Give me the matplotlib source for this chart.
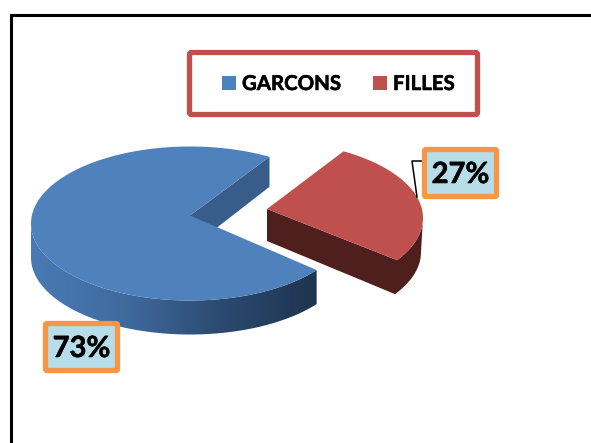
# 3D style pie chart garcons / filles
import numpy as np
import matplotlib
matplotlib.use('Agg')
import matplotlib.pyplot as plt
import matplotlib.patheffects as pe
from matplotlib.colors import LinearSegmentedColormap
from matplotlib.patches import FancyBboxPatch, Polygon, Rectangle

categories = ['GARCONS', 'FILLES']
shares = [73, 27]
share_labels = ['73%', '27%']

plt.rcParams['font.family'] = ['Lato', 'DejaVu Sans']

fig = plt.figure(figsize=(5.91, 4.43), dpi=100)
ax = fig.add_axes([0, 0, 1, 1])
ax.set_xlim(0, 591)
ax.set_ylim(443, 0)
ax.axis('off')

# pie geometry in pixels
rx, ry = 159, 77
depth = 33
apex_shift = -8          # perspective: apex sits above the ellipse centre
start = 60
red_skew = 4             # perspective again, red front corner sits further right
blue_c = (190, 223.5)
red_c = (264, 218)
bold = [pe.withStroke(linewidth=0.4, foreground='black')]


def arc(c, a0, a1, dy=0):
    t = np.radians(np.linspace(a0, a1, 200))
    return np.column_stack([c[0] + rx * np.cos(t), c[1] - ry * np.sin(t) + dy])


blue_end = start + shares[0] / sum(shares) * 360
red_end = blue_end + shares[1] / sum(shares) * 360

# blue side walls
blue_apex = np.array([blue_c[0], blue_c[1] + apex_shift])
p0 = arc(blue_c, start, start + 0.01)[0]
ax.add_patch(Polygon([blue_apex, p0, p0 + [0, depth - 3], blue_apex + [0, depth]],
                     fc='#385d8a', ec='none', zorder=1))

top = arc(blue_c, 180, blue_end)
bot = arc(blue_c, blue_end, 180, dy=depth + 1)
wall = Polygon(np.vstack([top, bot]), fc='none', ec='none', zorder=2)
ax.add_patch(wall)
cmap = LinearSegmentedColormap.from_list('w', ['#4a7ab4', '#3f6a9e', '#2c4a70', '#1e344f'])
im = ax.imshow(np.linspace(0, 1, 256)[None, :], cmap=cmap, aspect='auto',
               extent=[blue_c[0] - rx, top[-1][0], 443, 0], zorder=2)
im.set_clip_path(wall)
ax.set_xlim(0, 591)
ax.set_ylim(443, 0)

# blue top
ax.add_patch(Polygon(np.vstack([blue_apex, arc(blue_c, start, blue_end)]),
                     fc='#4f81bd', ec='none', zorder=3))

# red side walls, one outline so there is no seam at the corner
red_apex = np.array([red_c[0] + 3, red_c[1] + apex_shift - 1])
r_arc = arc(red_c, blue_end + red_skew, red_end)
front = arc(red_c, blue_end + red_skew, 360)
ax.add_patch(Polygon(np.vstack([red_apex, front, (front + [-2, depth + 1])[::-1],
                                red_apex + [0, depth - 1]]),
                     fc='#4f1f1d', ec='none', zorder=4))

# red top
ax.add_patch(Polygon(np.vstack([red_apex, r_arc]), fc='#c0504d', ec='none', zorder=5))

# frame
ax.plot([10.5, 10.5, 591], [443, 15, 15], color='black', lw=2.2, solid_joinstyle='miter', zorder=6)

# legend
ax.add_patch(FancyBboxPatch((189.5, 52.5), 288, 62, boxstyle='round,pad=0,rounding_size=2',
                            fc='white', ec='#c0504d', lw=3.8, zorder=6))
ax.add_patch(Rectangle((222, 76), 14, 14, fc='#4f81bd', ec='none', zorder=7))
ax.add_patch(Rectangle((373, 76), 14, 14, fc='#c0504d', ec='none', zorder=7))
ax.text(242, 84, categories[0], fontsize=14.7, fontweight='bold', va='center', ha='left',
        zorder=7, path_effects=bold)
ax.text(393, 84, categories[1], fontsize=14.7, fontweight='bold', va='center', ha='left',
        zorder=7, path_effects=bold)

# leader line for the small slice
ax.plot([424, 412, 417], [161, 161, 197], color='black', lw=1.1, zorder=6)

# data labels
for (x, y, w, h), lab in zip([(45.5, 323.5, 72, 47), (424.5, 149.5, 72, 47)], share_labels):
    ax.add_patch(FancyBboxPatch((x, y), w, h, boxstyle='round,pad=0,rounding_size=1.5',
                                fc='#b7dde8', ec='#f79646', lw=3.8, zorder=7))
    ax.text(x + w / 2, y + h / 2 + 2, lab, fontsize=21, fontweight='bold', va='center', ha='center',
            zorder=8, path_effects=bold)

fig.savefig('out.png', dpi=100)
plt.close()
